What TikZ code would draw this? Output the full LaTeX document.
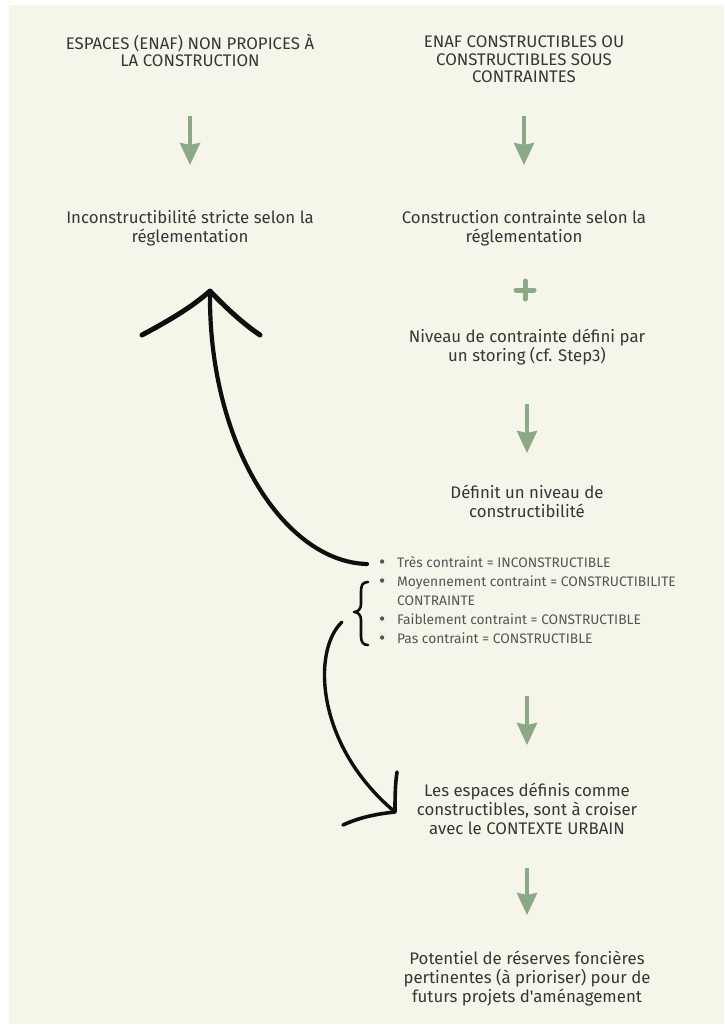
\documentclass[tikz,border=0pt]{standalone}
\usepackage{fontspec}
\setmainfont{Fira Sans}[Ligatures=TeXOff]
\usetikzlibrary{arrows.meta,calc}
\definecolor{cream}{RGB}{245,245,233}
\definecolor{sage}{RGB}{139,168,135}
\definecolor{ink}{RGB}{55,55,55}
\definecolor{listgray}{RGB}{85,85,85}
\newcommand{\bul}{\raisebox{-0.1ex}{\fontsize{19}{19}\selectfont •}}

\begin{document}
\begin{tikzpicture}[x=1pt,y=-1pt,
  head/.style={font=\fontsize{16.8}{17.5}\selectfont, text=ink, align=center, inner sep=0pt},
  body/.style={font=\fontsize{16.8}{19}\selectfont, text=ink, align=center, inner sep=0pt},
  flow/.style={draw=sage, line width=4pt, -{Stealth[width=20pt,length=22pt,inset=2pt]}},
  hand/.style={draw=black!94, line cap=round, line join=round}]

% page and panel
\useasboundingbox (0,0) rectangle (724,1027);
\fill[white] (0,0) rectangle (724,1027);
\fill[cream] (9,5) rectangle (724,1024);

% left column
\node[head] (t1) at (190,50.5) {ESPACES (ENAF) NON PROPICES À\\LA CONSTRUCTION};
\node[body] (inc1) at (190,228.5) {Inconstructibilité stricte selon la\\réglementation};

% right column
\node[head] (t2) at (524,59.5) {ENAF CONSTRUCTIBLES OU\\CONSTRUCTIBLES SOUS\\CONTRAINTES};
\node[body] (con1) at (524,228.5) {Construction contrainte selon la\\réglementation};
\node[minimum size=22pt, inner sep=0pt] (plus) at (525,290) {};
\node[body] (niv) at (527,347.5) {Niveau de contrainte défini par\\un storing (cf. Step3)};
\node[body] (def) at (527,501.5) {Définit un niveau de\\constructibilité};

% scoring levels
\node[anchor=west, inner sep=0pt, text=listgray, font=\fontsize{13.8}{19}\selectfont] (lst) at (379,602) {%
  \begin{tabular}{@{}p{13pt}@{\hspace{5pt}}l@{}}
  \bul & Très contraint = INCONSTRUCTIBLE\\
  \bul & Moyennement contraint = CONSTRUCTIBILITE\\
       & CONTRAINTE\\
  \bul & Faiblement contraint = CONSTRUCTIBLE\\
  \bul & Pas contraint = CONSTRUCTIBLE
  \end{tabular}};

\node[body] (esp) at (527,809) {Les espaces définis comme\\constructibles, sont à croiser\\avec le CONTEXTE URBAIN};
\node[body] (pot) at (527,979) {Potentiel de réserves foncières\\pertinentes (à prioriser) pour de\\futurs projets d'aménagement};

% green flow arrows
\draw[flow, shorten <=65.5pt, shorten >=63.5pt] (t1.center) -- (inc1.center);
\draw[flow, shorten <=56.5pt, shorten >=63.5pt] (t2.center) -- (con1.center);
\draw[flow, shorten <=56.5pt, shorten >=48.5pt] (niv.center) -- (def.center);
\draw[flow, shorten <=94pt, shorten >=64pt] (esp.center |- lst.center) -- (esp.center);
\draw[flow, shorten <=59pt, shorten >=64pt] (esp.center) -- (pot.center);

% plus sign
\draw[sage, line width=5pt, line cap=round]
  ($(plus.center)+(-9,0)$) -- ($(plus.center)+(9,0)$)
  ($(plus.center)+(0,-9)$) -- ($(plus.center)+(0,9)$);

% hand-drawn brace
\draw[hand, line width=2.6pt]
  (368,582) .. controls (362,582) and (361,586) .. (361,592) -- (361,604)
  .. controls (361,609) and (358,612) .. (354,612)
  .. controls (358,612) and (361,615) .. (361,620) -- (361,636)
  .. controls (361,642) and (363,645) .. (368,645);

% hand-drawn arrow back to the strict case
\coordinate (upstart) at (367,564);
\coordinate (uptip) at (210,291);
\draw[hand, line width=4.2pt] (upstart) .. controls (285,562) and (208,445) .. (uptip);
\draw[hand, line width=5pt] (142,335) .. controls (170,320) and (192,307) .. (uptip)
  .. controls (228,310) and (245,325) .. (260,335);

% hand-drawn arrow down to the urban context
\coordinate (dnstart) at (342,622);
\coordinate (dntip) at (395,812);
\draw[hand, line width=3.4pt] (dnstart) .. controls (312,650) and (315,745) .. (dntip);
\draw[hand, line width=3.6pt] (397,772) .. controls (395,785) and (395,800) .. (dntip)
  .. controls (375,814) and (358,818) .. (343,825);
\end{tikzpicture}
\end{document}
